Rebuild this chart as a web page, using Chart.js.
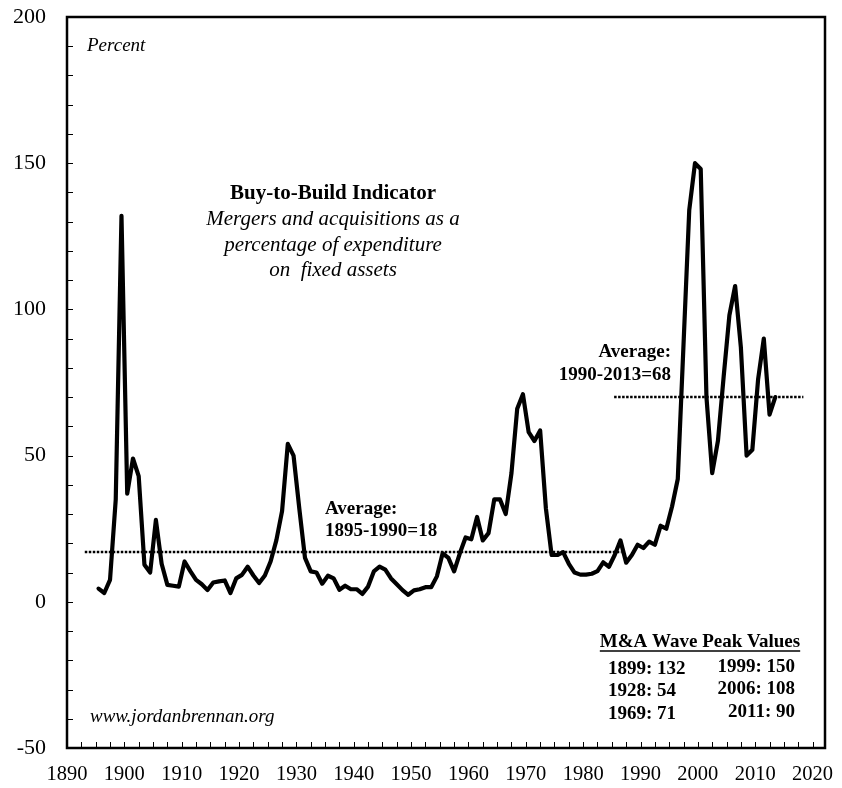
<!DOCTYPE html>
<html>
<head>
<meta charset="utf-8">
<script src="https://cdn.jsdelivr.net/npm/chart.js@4.4.1/dist/chart.umd.min.js"></script>
<style>
	html, body { margin: 0; padding: 0; background: #fff; }
	#wrap { width: 842px; height: 788px; }
</style>
</head>
<body>
<div id="wrap"><canvas id="chart" width="842" height="788"></canvas></div>
<script>
// Buy-to-Build indicator, percent, one value per year from firstYear.
var firstYear = 1895;
var buyToBuild = [
	4.5, 3, 7.5, 35, 132, // 1895-1899
	37, 49, 43, 12.7, 10, 28, 13, 5.8, 5.5, 5.2, // 1900s
	13.8, 10.5, 7.5, 6, 4, 6.6, 7, 7.3, 3, 8, // 1910s
	9.2, 12, 9, 6.4, 9, 13.8, 21, 31, 54, 50, // 1920s
	32, 15, 10.4, 10, 6.2, 8.9, 8, 4.1, 5.5, 4.3, // 1930s
	4.3, 2.7, 5.2, 10.4, 12, 11, 8, 6, 4, 2.4, // 1940s
	3.9, 4.3, 5, 5, 8.7, 16.6, 15, 10.4, 16.6, 22, // 1950s
	21.4, 29, 21, 23.5, 35, 35, 30, 44, 66, 71, // 1960s
	58, 55, 58.6, 32, 16, 16, 17, 13, 10, 9.3, // 1970s
	9.3, 9.6, 10.5, 13.5, 12, 16, 21, 13.4, 16, 19.5, // 1980s
	18.4, 20.6, 19.5, 26, 25, 32.6, 42, 88, 134, 150, // 1990s
	148, 70, 44, 55, 77, 98, 108, 87, 50, 52, // 2000s
	76, 90, 64, 70 // 2010-2013
];

// Dotted average lines as drawn (from, to, level)
var averageEarly = [1893.1, 1986.7, 17];
var averageLate = [1985.4, 2018.4, 70];

// Axis ticks: labels every 10 years, marks every 2.5 years
var xLabels = [1890, 1900, 1910, 1920, 1930, 1940, 1950, 1960, 1970, 1980, 1990, 2000, 2010, 2020];
var xMinorStep = 2.5;
var yLabels = [-50, 0, 50, 100, 150, 200];

var peakLeft = ['1899: 132', '1928: 54', '1969: 71'];
var peakRight = ['1999: 150', '2006: 108', '2011: 90'];

var serif = "'Liberation Serif', 'Times New Roman', serif";

// each year is plotted in the middle of its slot, as in the source chart
var points = buyToBuild.map(function(v, i) {
	return { x: firstYear + i + 0.5, y: v };
});

var avgLine = function(a) {
	return [{ x: a[0], y: a[2] }, { x: a[1], y: a[2] }];
};

// Frame, inward tick marks and the text boxes
var decorations = {
	id: 'decorations',
	afterDraw: function(chart) {
		var ctx = chart.ctx;
		var area = chart.chartArea;
		var xs = chart.scales.x;
		var ys = chart.scales.y;

		ctx.save();
		ctx.strokeStyle = '#000';
		ctx.lineWidth = 1;
		ys.ticks.forEach(function(t) {
			var py = Math.round(ys.getPixelForValue(t.value)) + 0.5;
			ctx.beginPath();
			ctx.moveTo(area.left, py);
			ctx.lineTo(area.left + 6, py);
			ctx.stroke();
		});
		xs.ticks.forEach(function(t) {
			var px = Math.round(xs.getPixelForValue(t.value)) + 0.5;
			ctx.beginPath();
			ctx.moveTo(px, area.bottom);
			ctx.lineTo(px, area.bottom - 6);
			ctx.stroke();
		});

		ctx.lineWidth = 2.5;
		ctx.strokeRect(area.left, area.top, area.right - area.left, area.bottom - area.top);

		ctx.fillStyle = '#000';
		ctx.textBaseline = 'middle';

		ctx.textAlign = 'left';
		ctx.font = 'italic 19px ' + serif;
		ctx.fillText('Percent', 87, 46);
		ctx.fillText('www.jordanbrennan.org', 90, 717);

		ctx.textAlign = 'center';
		ctx.font = 'bold 21px ' + serif;
		ctx.fillText('Buy-to-Build Indicator', 333, 194);
		ctx.font = 'italic 21px ' + serif;
		ctx.fillText('Mergers and acquisitions as a', 333, 219);
		ctx.fillText('percentage of expenditure', 333, 245);
		ctx.fillText('on  fixed assets', 333, 270);

		ctx.font = 'bold 19px ' + serif;
		ctx.textAlign = 'left';
		ctx.fillText('Average:', 325, 509);
		ctx.fillText('1895-1990=18', 325, 531);
		ctx.textAlign = 'right';
		ctx.fillText('Average:', 671, 352);
		ctx.fillText('1990-2013=68', 671, 375);

		// Peak values box
		ctx.textAlign = 'center';
		var head = 'M&A Wave Peak Values';
		ctx.fillText(head, 700, 642);
		var w = ctx.measureText(head).width;
		ctx.lineWidth = 1.5;
		ctx.beginPath();
		ctx.moveTo(700 - w / 2, 651);
		ctx.lineTo(700 + w / 2, 651);
		ctx.stroke();

		var rows = [669, 691, 714];
		ctx.textAlign = 'left';
		peakLeft.forEach(function(s, i) { ctx.fillText(s, 608, rows[i]); });
		ctx.textAlign = 'right';
		peakRight.forEach(function(s, i) { ctx.fillText(s, 795, rows[i] - 2); });
		ctx.restore();
	}
};

new Chart(document.getElementById('chart').getContext('2d'), {
	type: 'line',
	data: {
		datasets: [{
			data: points,
			borderColor: '#000',
			borderWidth: 4.2,
			borderJoinStyle: 'round',
			borderCapStyle: 'round',
			pointRadius: 0,
			tension: 0
		}, {
			data: avgLine(averageEarly),
			borderColor: '#000',
			borderWidth: 2.5,
			borderDash: [2.5, 1.5],
			pointRadius: 0
		}, {
			data: avgLine(averageLate),
			borderColor: '#000',
			borderWidth: 2.5,
			borderDash: [2.5, 1.5],
			pointRadius: 0
		}]
	},
	options: {
		responsive: false,
		animation: false,
		layout: { padding: { top: 17, right: 17, left: 0, bottom: 0 } },
		plugins: {
			legend: { display: false },
			tooltip: { enabled: false }
		},
		scales: {
			x: {
				type: 'linear',
				min: 1890,
				max: 2022.17,
				afterBuildTicks: function(scale) {
					var ticks = [];
					for (var v = xLabels[0]; v <= xLabels[xLabels.length - 1]; v += xMinorStep) {
						ticks.push({ value: v });
					}
					scale.ticks = ticks;
				},
				afterFit: function(scale) {
					scale.height = 40;
					scale.paddingLeft = 0;
					scale.paddingRight = 0;
				},
				grid: { display: false, drawTicks: false },
				border: { display: false },
				ticks: {
					autoSkip: false,
					maxRotation: 0,
					padding: 14,
					color: '#000',
					font: { family: serif, size: 20.5 },
					callback: function(v) { return xLabels.indexOf(v) >= 0 ? String(v) : ''; }
				}
			},
			y: {
				min: -50,
				max: 200,
				afterFit: function(scale) {
					scale.width = 67;
					scale.paddingTop = 0;
					scale.paddingBottom = 0;
				},
				grid: { display: false, drawTicks: false },
				border: { display: false },
				ticks: {
					stepSize: 10,
					autoSkip: false,
					padding: 21,
					color: '#000',
					font: { family: serif, size: 22 },
					callback: function(v) { return yLabels.indexOf(v) >= 0 ? String(v) : ''; }
				}
			}
		}
	},
	plugins: [decorations]
});
</script>
</body>
</html>
